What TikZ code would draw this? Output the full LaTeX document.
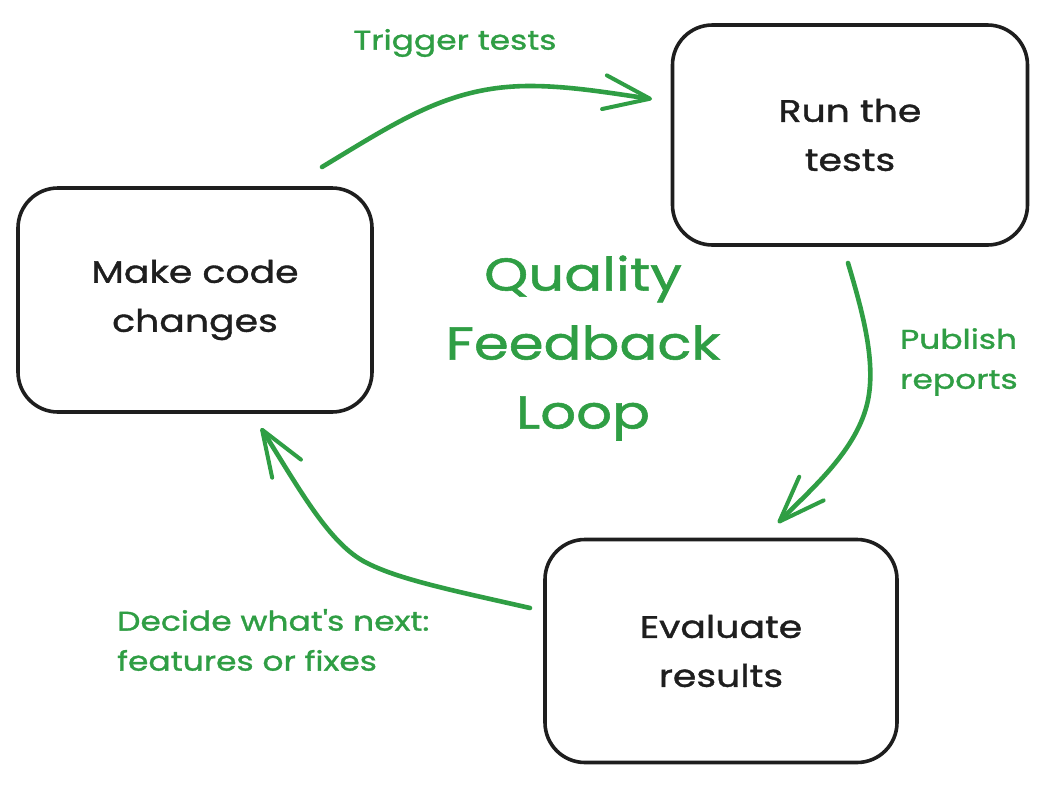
\documentclass[tikz,border=0pt]{standalone}
\usepackage{fontspec}
\setmainfont{Poppins}[FakeStretch=1.22, FakeBold=1.2, AutoFakeBold=1.2]
\usetikzlibrary{arrows.meta}
\definecolor{exgreen}{HTML}{2F9E44}
\definecolor{exblack}{HTML}{1E1E1E}
\tikzset{
  box/.style={draw=exblack, line width=3.6pt, rounded corners=40pt, align=center,
    font=\fontsize{31}{49}\selectfont, text=exblack, inner sep=0pt},
  flow/.style={draw=exgreen, line width=4.6pt, line cap=round,
    -{Straight Barb[length=46pt,width=34pt,line width=4pt,round]}},
  lbl/.style={text=exgreen, font=\fontsize{27}{40}\selectfont, inner sep=0pt},
  title/.style={text=exgreen, font=\fontsize{46}{69}\selectfont, align=center, inner sep=0pt}
}
\begin{document}
\begin{tikzpicture}[x=1pt,y=-1pt]
\useasboundingbox[fill=white] (0,0) rectangle (1045,785);
% boxes
\node[box, minimum width=354pt, minimum height=224pt] (make) at (195,300) {Make code\\changes};
\node[box, minimum width=355pt, minimum height=220pt] (run) at (850,135) {Run the\\tests};
\node[box, minimum width=352pt, minimum height=223pt] (eval) at (721,651) {Evaluate\\results};
% title
\node[title] (ttl) at (583,348) {Quality\\Feedback\\Loop};
% labels
\node[lbl, anchor=center] (trig) at (455,43) {Trigger tests};
\node[lbl, anchor=west, align=left] (pub) at (900,362) {Publish\\reports};
\node[lbl, anchor=west, align=left] (dec) at (117,640) {Decide what\textquotesingle s next:\\features or fixes};
% connector ends
\coordinate (a1s) at (322,167);
\coordinate (a1e) at (652,99);
\coordinate (a2s) at (848,263);
\coordinate (a2e) at (778,523);
\coordinate (a3s) at (530,608);
\coordinate (a3e) at (261,428);
% arrows
\draw[flow] (a1s) .. controls (400,120) and (450,86) .. (530,86) .. controls (570,86) and (610,93) .. (a1e);
\draw[flow] (a2s) .. controls (862,310) and (876,360) .. (868,400) .. controls (858,450) and (810,490) .. (a2e);
\draw[flow] (a3s) .. controls (460,592) and (400,580) .. (367,563) .. controls (330,545) and (300,490) .. (a3e);
\end{tikzpicture}
\end{document}
